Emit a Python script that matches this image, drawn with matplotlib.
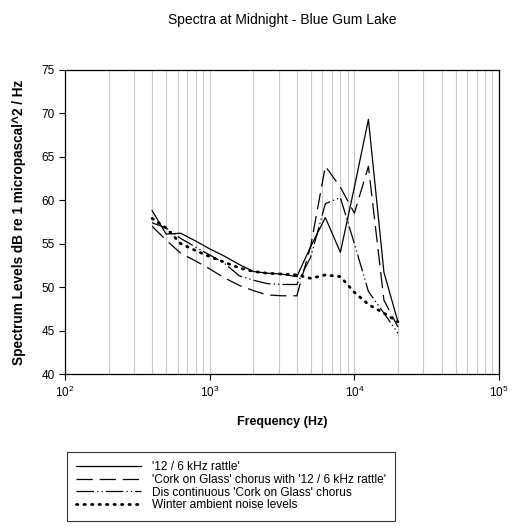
import numpy as np
import matplotlib.pyplot as plt
from matplotlib.ticker import LogLocator, NullFormatter

# 1/3 octave band centre frequencies (Hz)
freq = [400, 500, 630, 800, 1000, 1250, 1600, 2000, 2500, 3150,
        4000, 5000, 6300, 8000, 10000, 12500, 16000, 20000]

# spectrum levels, dB re 1 micropascal^2 / Hz
rattle = [58.8, 56.1, 56.2, 55.3, 54.4, 53.6, 52.6, 51.8, 51.6, 51.5,
          51.2, 54.7, 58.0, 54.0, 61.5, 69.3, 51.7, 46.0]
chorus_rattle = [57.0, 55.4, 53.9, 53.0, 52.1, 51.1, 50.2, 49.6, 49.1, 49.0,
                 49.0, 54.8, 63.9, 61.5, 58.5, 63.9, 48.5, 45.4]
chorus_disc = [57.4, 56.8, 55.6, 54.6, 53.7, 52.8, 51.3, 50.8, 50.4, 50.3,
               50.3, 53.5, 59.6, 60.3, 55.0, 49.5, 47.0, 44.7]
winter = [57.9, 56.8, 55.0, 54.2, 53.5, 52.9, 52.2, 51.8, 51.6, 51.5,
          51.4, 51.0, 51.4, 51.2, 49.4, 48.0, 47.0, 46.0]

labels = ["'12 / 6 kHz rattle'",
          "'Cork on Glass' chorus with '12 / 6 kHz rattle'",
          "Dis continuous 'Cork on Glass' chorus",
          "Winter ambient noise levels"]

plt.rcParams['font.family'] = ['Liberation Sans', 'DejaVu Sans']

fig = plt.figure(figsize=(5.18, 5.29), dpi=100)
ax = fig.add_axes([0.1255, 0.293, 0.838, 0.575])

ax.plot(freq, rattle, color='black', lw=0.9, ls='-', label=labels[0])
ax.plot(freq, chorus_rattle, color='black', lw=0.9, ls=(0, (13, 5.5)),
        label=labels[1])
ax.plot(freq, chorus_disc, color='black', lw=0.9,
        ls=(0, (14, 2.5, 1, 2.5, 1, 2.5)), label=labels[2])
ax.plot(freq, winter, color='black', lw=2.0, ls=(0, (0.5, 2.2)),
        dash_capstyle='round', label=labels[3])

ax.set_xscale('log')
ax.set_xlim(100, 100000)
ax.set_ylim(40, 75)
ax.set_yticks(np.arange(40, 76, 5))

# vertical grid on every decade subdivision
ax.xaxis.set_minor_locator(LogLocator(base=10, subs=np.arange(2, 10)))
ax.xaxis.set_minor_formatter(NullFormatter())
ax.grid(True, which='both', axis='x', color='#c8c8c8', lw=0.8)
ax.set_axisbelow(True)

ax.tick_params(axis='both', which='major', direction='out', length=4,
               width=0.8, labelsize=8.5)
ax.tick_params(axis='x', which='minor', length=0)
for s in ax.spines.values():
    s.set_linewidth(0.9)

ax.set_xlabel('Frequency (Hz)', fontsize=9, fontweight='bold', labelpad=12)
ax.set_ylabel('Spectrum Levels dB re 1 micropascal^2 / Hz', fontsize=9.8,
              fontweight='bold', labelpad=11)
fig.suptitle('Spectra at Midnight - Blue Gum Lake', x=0.544, y=0.975,
             fontsize=10)

leg = fig.legend(loc='upper left', bbox_to_anchor=(0.129, 0.146),
                 fontsize=8.6, frameon=True, fancybox=False,
                 handlelength=5.45, handletextpad=0.85, labelspacing=0.05,
                 borderpad=0.8, borderaxespad=0)
leg.get_frame().set_edgecolor('black')
leg.get_frame().set_linewidth(0.8)

fig.savefig('out.png', dpi=100)
